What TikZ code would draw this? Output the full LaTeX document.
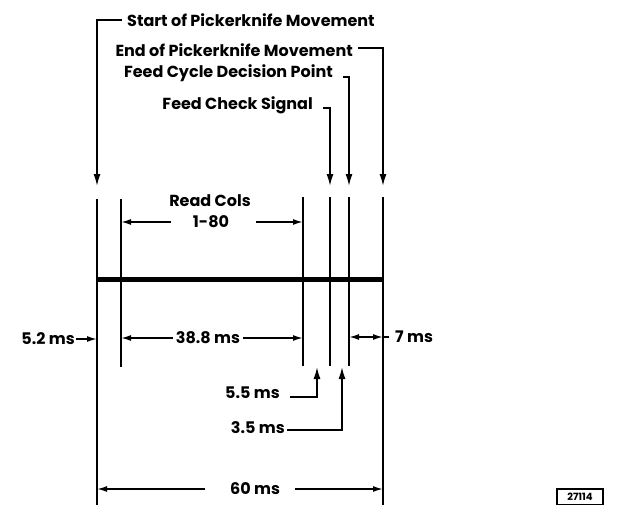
\documentclass[tikz,border=0pt]{standalone}
\usepackage{fontspec}
\setmainfont{Poppins}
\usepackage{tikz}
\usetikzlibrary{arrows.meta, positioning, calc}

\begin{document}
\begin{tikzpicture}[x=1pt, y=-1pt,
    lbl/.style={font=\bfseries\fontsize{16}{18}\selectfont, inner sep=0pt},
    markline/.style={line width=1.8pt},
    lead/.style={line width=1.6pt, -{Latex[length=12pt, width=7pt]}},
    dim/.style={line width=1.6pt, -{Latex[length=10pt, width=6pt]}},
    bar/.style={line width=5pt},
]
  \useasboundingbox (0,0) rectangle (618,504);

  % Time marks on the bar
  \foreach \n/\x in {A/97, B/121, C/303, D/330, E/349, F/383} {
      \coordinate (\n) at (\x,279);
  }
  \draw[bar] (A) -- (F);
  \foreach \n/\top/\bot in {A/199/510, B/199/367, C/197/366, D/197/366, E/197/366, F/197/510} {
      \draw[markline] (\n |- 0,\top) -- (\n |- 0,\bot);
  }

  % Event labels on top
  \node[lbl, anchor=west] (startpk) at (127,20) {Start of Pickerknife Movement};
  \node[lbl, anchor=east] (endpk) at (353,50) {End of Pickerknife Movement};
  \node[lbl, anchor=east] (decision) at (333,73) {Feed Cycle Decision Point};
  \node[lbl, anchor=east] (check) at (313,105) {Feed Check Signal};

  \draw[lead] ([xshift=-5pt]startpk.west) -| (A |- 0,186);
  \draw[lead] ([xshift=5pt,yshift=2pt]endpk.east) -| (F |- 0,186);
  \draw[lead] ([xshift=10pt,yshift=-4pt]decision.east) -| (E |- 0,186);
  \draw[lead] ([xshift=10pt,yshift=-3pt]check.east) -| (D |- 0,186);

  % Read columns span
  \node[lbl] (readcols) at (210,201) {Read Cols};
  \node[lbl] (cols) at (211,222) {1-80};
  \draw[dim] ([xshift=-22pt]cols.west) -- (B |- cols);
  \draw[dim] ([xshift=27pt]cols.east) -- (C |- cols);

  % Durations
  \node[lbl] (t388) at (208,338) {38.8 ms};
  \draw[dim] ([xshift=-3pt]t388.west) -- (B |- t388);
  \draw[dim] ([xshift=3pt]t388.east) -- (C |- t388);

  \node[lbl, anchor=east] (t52) at (75,339) {5.2 ms};
  \draw[dim] ([xshift=1pt]t52.east) -- (A |- t52);

  \node[lbl, anchor=west] (t7) at (395,337) {7 ms};
  \coordinate (mid7) at (366,337);
  \draw[dim] (mid7) -- (E |- mid7);
  \draw[dim] (mid7) -- (F |- mid7);
  \draw[line width=1.6pt] (F |- t7) -- ([xshift=-6pt]t7.west);

  \node[lbl, anchor=east] (t55) at (280,393) {5.5 ms};
  \node[lbl, anchor=east] (t35) at (285,428) {3.5 ms};
  \coordinate (tip55) at (317,367);
  \coordinate (tip35) at (342,367);
  \draw[lead] ([xshift=10pt,yshift=-4pt]t55.east) -| (tip55);
  \draw[lead] ([xshift=2pt,yshift=-2pt]t35.east) -| (tip35);

  % Total cycle
  \node[lbl] (t60) at (255,489) {60 ms};
  \draw[dim] ([xshift=-25pt]t60.west) -- (A |- t60);
  \draw[dim] ([xshift=15pt]t60.east) -- (F |- t60);

  % Figure number
  \node[draw, line width=1.2pt, font=\bfseries\fontsize{10}{12}\selectfont,
        minimum width=46pt, minimum height=16pt] (fignum) at (580,497) {27114};
\end{tikzpicture}
\end{document}
